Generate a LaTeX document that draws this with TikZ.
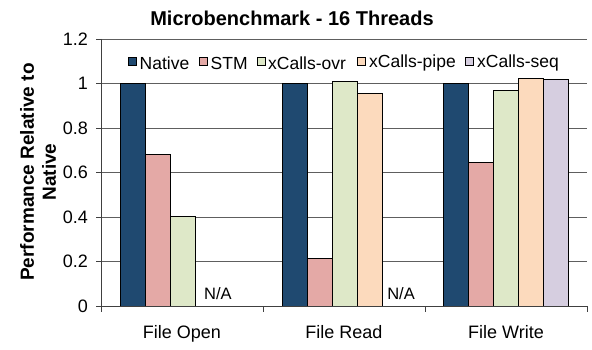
\documentclass[tikz,border=0pt]{standalone}
\usepackage{fontspec}
\setmainfont{Liberation Sans}
\definecolor{cNat}{HTML}{1F4970}
\definecolor{cStm}{HTML}{E4A9A6}
\definecolor{cOvr}{HTML}{DEE8C8}
\definecolor{cPipe}{HTML}{FCDABD}
\definecolor{cSeq}{HTML}{D6CEE0}
\definecolor{cGrid}{HTML}{5E5E5E}
\tikzset{
  bar/.style={draw=black, line width=0.9pt},
  grid line/.style={draw=cGrid, line width=0.9pt},
  axis line/.style={draw=black!75, line width=0.9pt},
  ticklab/.style={font=\fontsize{18}{18}\selectfont, anchor=east, inner sep=0pt},
  catlab/.style={font=\fontsize{18}{18}\selectfont, anchor=base, inner sep=0pt},
  nalab/.style={font=\fontsize{16.5}{16.5}\selectfont, inner sep=0pt},
  leglab/.style={font=\fontsize{17.5}{17.5}\selectfont, anchor=west, inner sep=0pt},
  legbox/.style={draw=black, line width=0.6pt, minimum size=8pt, inner sep=0pt},
}
\newcommand{\barr}[3]{\filldraw[bar, fill=#3] (#1,306) rectangle ({#1+25},{306-222.3*#2});}
\begin{document}
\begin{tikzpicture}[x=1pt,y=-1pt]
\useasboundingbox (0,0) rectangle (592,350);
% gridlines
\foreach \v in {0.2,0.4,0.6,0.8,1.0,1.2}
  \draw[grid line] (101,{306-222.3*\v}) -- (587,{306-222.3*\v});
% File Open
\barr{120.5}{1.0}{cNat}
\barr{145.5}{0.68}{cStm}
\barr{170.5}{0.404}{cOvr}
% File Read
\barr{282}{1.0}{cNat}
\barr{307}{0.215}{cStm}
\barr{332}{1.008}{cOvr}
\barr{357}{0.955}{cPipe}
% File Write
\barr{443.5}{1.0}{cNat}
\barr{468.5}{0.645}{cStm}
\barr{493.5}{0.97}{cOvr}
\barr{518.5}{1.022}{cPipe}
\barr{543.5}{1.017}{cSeq}
% axes
\draw[axis line] (101,39) -- (101,306);
\draw[axis line] (101,306) -- (587,306);
\foreach \v in {0,0.2,0.4,0.6,0.8,1.0,1.2}
  \draw[axis line] (96,{306-222.3*\v}) -- (101,{306-222.3*\v});
\foreach \x in {101,263,425,587}
  \draw[axis line] (\x,306) -- (\x,312);
% tick labels
\node[ticklab] (t0) at (88,306) {0};
\node[ticklab] (t1) at (88,{306-222.3*0.2}) {0.2};
\node[ticklab] (t2) at (88,{306-222.3*0.4}) {0.4};
\node[ticklab] (t3) at (88,{306-222.3*0.6}) {0.6};
\node[ticklab] (t4) at (88,{306-222.3*0.8}) {0.8};
\node[ticklab] (t5) at (88,{306-222.3*1.0}) {1};
\node[ticklab] (t6) at (88,{306-222.3*1.2}) {1.2};
% category labels
\node[catlab] (c1) at (182,338) {File Open};
\node[catlab] (c2) at (344,338) {File Read};
\node[catlab] (c3) at (506,338) {File Write};
% N/A
\node[nalab] (na1) at (218,294) {N/A};
\node[nalab] (na2) at (401,294) {N/A};
% title
\node[font=\bfseries\fontsize{20}{20}\selectfont, inner sep=0pt] (title) at (292,18) {Microbenchmark - 16 Threads};
% y label
\node[font=\bfseries\fontsize{19}{22}\selectfont, rotate=90, align=center, inner sep=0pt] (ylab) at (38,172) {Performance Relative to\\Native};
% legend
\node[legbox, fill=cNat] (l1) at (132,61.5) {};
\node[leglab] (l1t) at (139.5,63) {Native};
\node[legbox, fill=cStm] (l2) at (203,61.5) {};
\node[leglab] (l2t) at (210.5,63) {STM};
\node[legbox, fill=cOvr] (l3) at (261,61.5) {};
\node[leglab] (l3t) at (268,63) {xCalls-ovr};
\node[legbox, fill=cPipe] (l4) at (361.5,61.5) {};
\node[leglab] (l4t) at (369,63) {xCalls-pipe};
\node[legbox, fill=cSeq] (l5) at (469.5,61.5) {};
\node[leglab] (l5t) at (477,63) {xCalls-seq};
\end{tikzpicture}
\end{document}
